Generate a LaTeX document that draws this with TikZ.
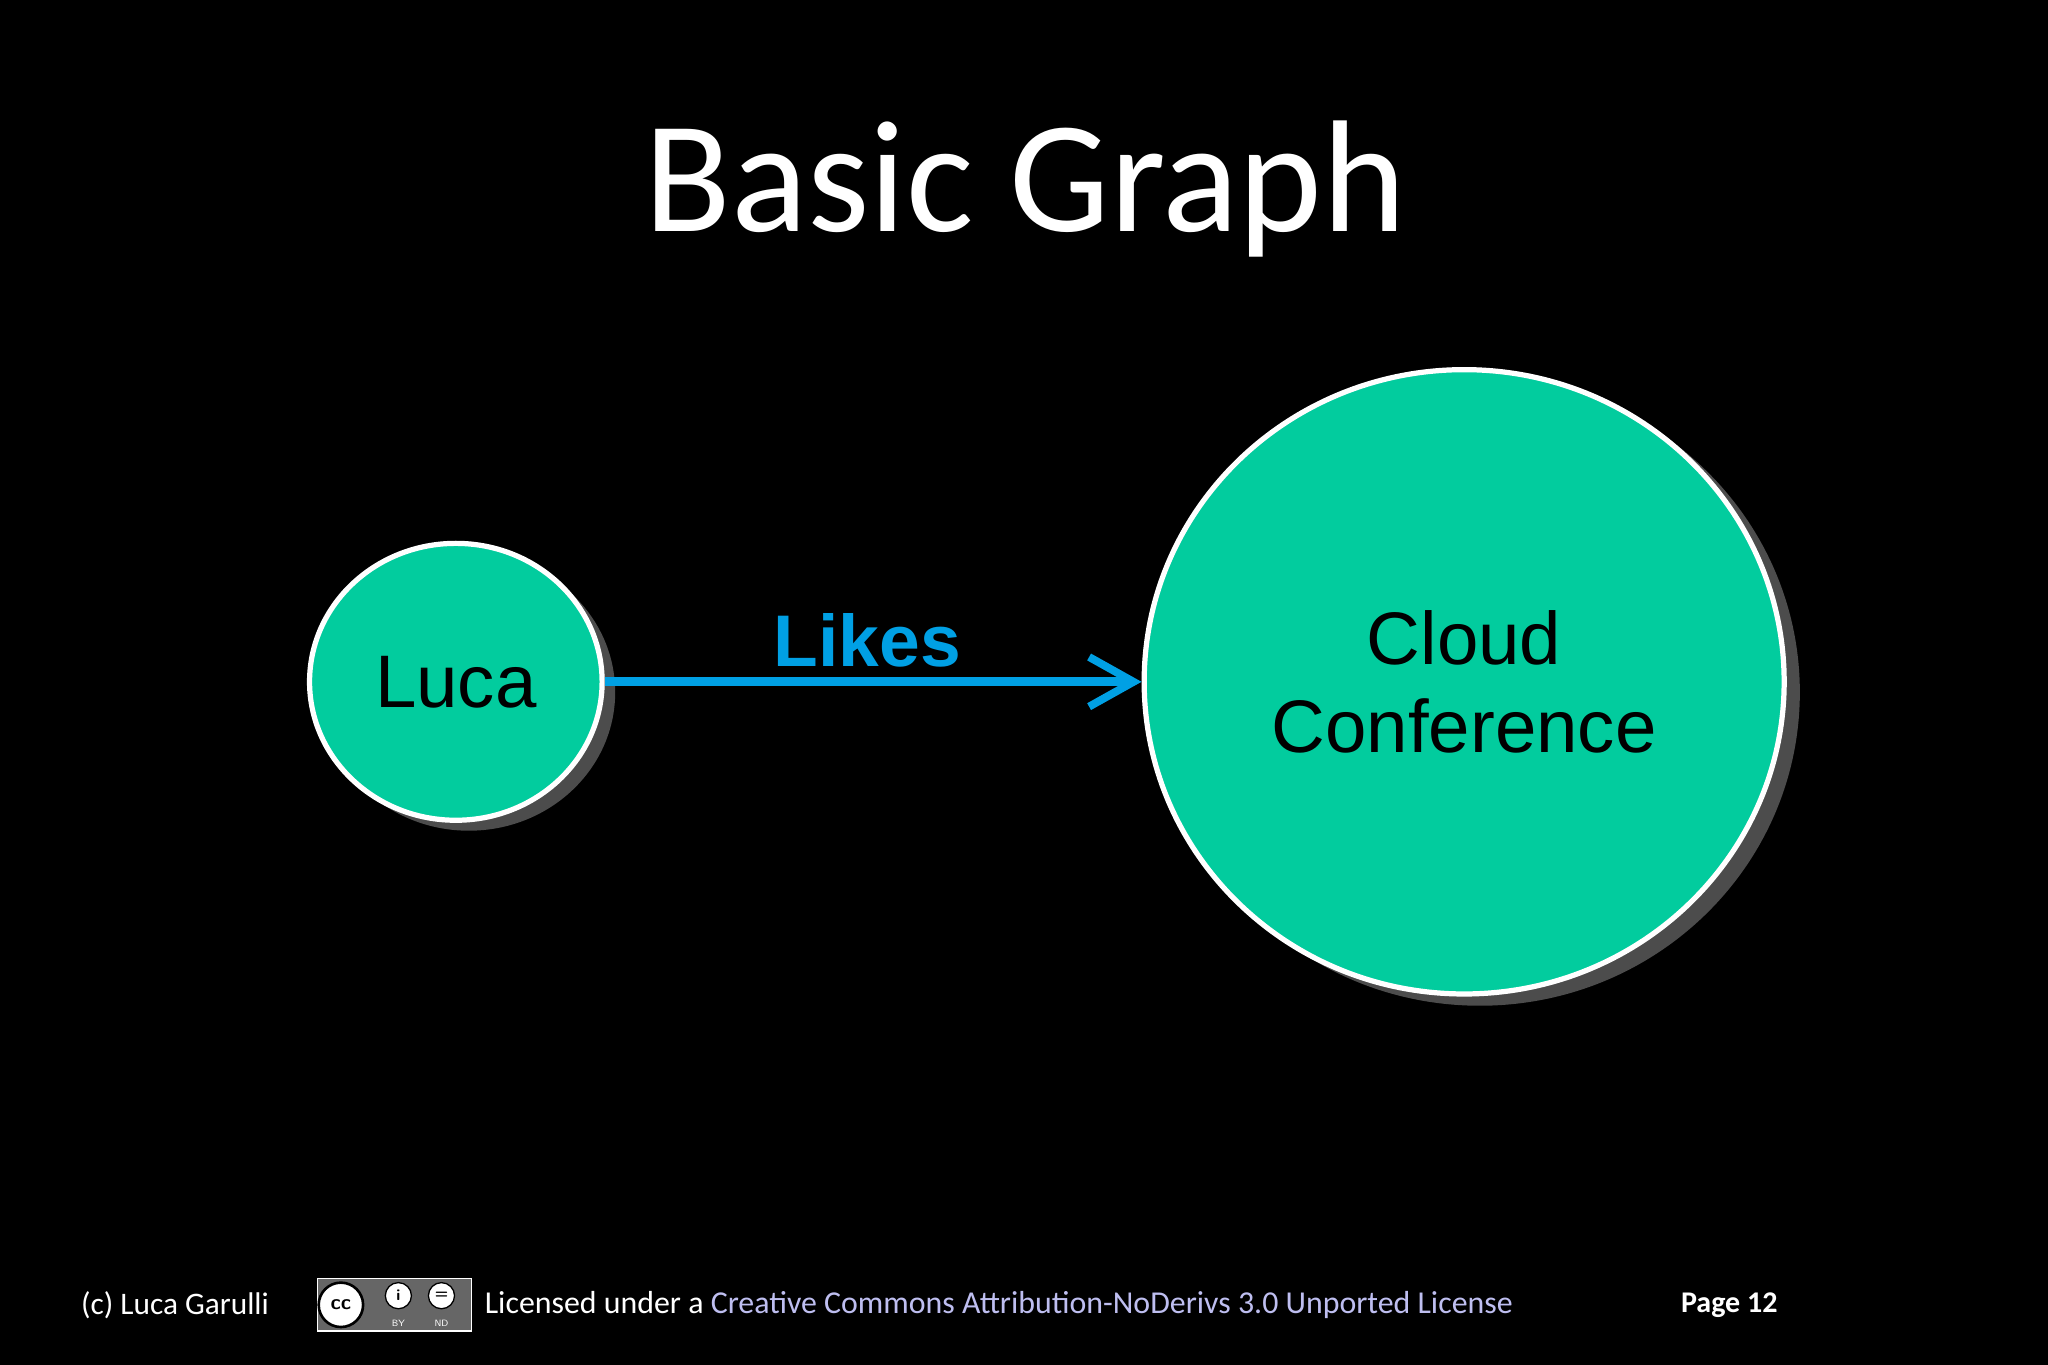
\documentclass[tikz,border=0pt]{standalone}
\usepackage{fontspec}
\setmainfont{Carlito}
\newfontfamily\arial{Liberation Sans}
\usetikzlibrary{arrows.meta,shapes.geometric}
\definecolor{nodeteal}{RGB}{2,204,158}
\definecolor{likeblue}{RGB}{0,160,228}
\definecolor{linkc}{RGB}{190,190,240}
\tikzset{vertex/.style={draw=white,line width=4pt,fill=nodeteal,inner sep=0pt}}
\begin{document}
\begin{tikzpicture}[x=1pt,y=-1pt]
\fill[black] (0,0) rectangle (1568,1045);
\useasboundingbox (0,0) rectangle (1568,1045);
\node[text=white,font=\fontsize{122}{124}\selectfont] (title) at (785,145) {Basic Graph};
\fill[black!70] (359,530) ellipse (112 and 106);
\fill[black!70] (1133,530) ellipse (245 and 240);
\node[vertex,ellipse,minimum width=224,minimum height=212,font=\arial\fontsize{57}{59}\selectfont] (luca) at (349,522) {Luca};
\node[vertex,ellipse,minimum width=490,minimum height=478,align=center,font=\arial\fontsize{57}{68}\selectfont] (cc) at (1121,522) {Cloud\\Conference};
\draw[likeblue,line width=7pt,-{Straight Barb[length=34pt,width=38pt,line width=6pt]}] (luca.east) -- (cc.west);
\node[text=likeblue,font=\arial\bfseries\fontsize{56}{58}\selectfont] (likes) at (664,490) {Likes};
\node[text=white,font=\fontsize{24}{26}\selectfont] (auth) at (134,999) {(c) Luca Garulli};
\node[fill=black!60,draw=white!70,line width=1pt,minimum width=118,minimum height=40,inner sep=0pt] (cc1) at (302,999) {};
\node[circle,fill=white,draw=black,line width=2pt,minimum size=34,font=\sffamily\bfseries\fontsize{16}{16}\selectfont,inner sep=0pt] (ccl) at (261,999) {cc};
\node[circle,fill=white,draw=black,line width=1pt,minimum size=20,font=\sffamily\bfseries\fontsize{12}{12}\selectfont,inner sep=0pt] (by) at (305,992) {i};
\node[circle,fill=white,draw=black,line width=1pt,minimum size=20,font=\sffamily\bfseries\fontsize{12}{12}\selectfont,inner sep=0pt] (nd) at (338,992) {=};
\node[text=white,font=\sffamily\fontsize{7}{7}\selectfont] (byt) at (305,1013) {BY};
\node[text=white,font=\sffamily\fontsize{7}{7}\selectfont] (ndt) at (338,1013) {ND};
\node[anchor=west,font=\fontsize{24.4}{26}\selectfont,inner sep=0pt] (lic) at (371,999) {\textcolor{white}{Licensed under a }\textcolor{linkc}{Creative Commons Attribution-NoDerivs 3.0 Unported License}};
\node[text=white,font=\bfseries\fontsize{23}{25}\selectfont] (page) at (1324,999) {Page 12};
\end{tikzpicture}
\end{document}
